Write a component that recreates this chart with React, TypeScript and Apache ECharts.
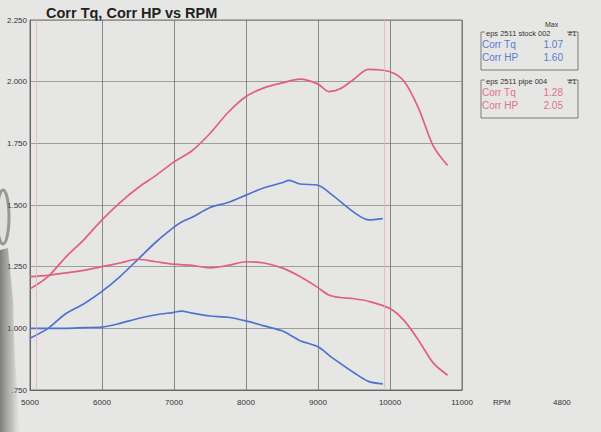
import React, { useEffect, useRef } from "react";
import * as echarts from "echarts";

const rpmStock = [5000, 5250, 5500, 5750, 6000, 6250, 6500, 6750, 7000, 7100, 7250, 7500, 7750, 8000, 8250, 8500, 8600, 8750, 9000, 9200, 9500, 9700, 9900];
const tqStock = [1.0, 1.0, 1.0, 1.003, 1.005, 1.02, 1.04, 1.055, 1.065, 1.07, 1.062, 1.05, 1.045, 1.03, 1.01, 0.99, 0.975, 0.95, 0.925, 0.88, 0.82, 0.785, 0.775];
const hpStock = [0.96, 1.0, 1.06, 1.1, 1.15, 1.21, 1.28, 1.35, 1.41, 1.43, 1.45, 1.49, 1.51, 1.54, 1.57, 1.59, 1.6, 1.585, 1.58, 1.54, 1.47, 1.44, 1.445];

const rpmPipe = [5000, 5250, 5500, 5750, 6000, 6250, 6500, 6750, 7000, 7250, 7500, 7750, 8000, 8250, 8500, 8750, 9000, 9150, 9300, 9500, 9700, 10000, 10200, 10400, 10600, 10800];
const tqPipe = [1.21, 1.215, 1.225, 1.235, 1.25, 1.265, 1.28, 1.27, 1.26, 1.255, 1.245, 1.255, 1.27, 1.265, 1.245, 1.21, 1.165, 1.135, 1.125, 1.12, 1.11, 1.08, 1.03, 0.95, 0.86, 0.81];
const hpPipe = [1.16, 1.21, 1.29, 1.36, 1.44, 1.51, 1.57, 1.62, 1.675, 1.72, 1.79, 1.875, 1.94, 1.975, 1.995, 2.01, 1.99, 1.96, 1.97, 2.01, 2.05, 2.04, 2.0, 1.89, 1.74, 1.66];

const cursorRpm = [5090, 9920];

const stockName = "eps 2511 stock 002";
const pipeName = "eps 2511 pipe 004";
const stockMax = ["1.07", "1.60"];
const pipeMax = ["1.28", "2.05"];

const BLUE = "#4d73cf";
const PINK = "#e2607f";

export default function App() {
  const ref = useRef<HTMLDivElement>(null);
  useEffect(() => {
    document.body.style.margin = "0";
    if (!ref.current) return;
    const chart = echarts.init(ref.current, null, { renderer: "svg" });
    const pair = (xs: number[], ys: number[]) => xs.map((x, i) => [x, ys[i]]);
    const font = "Liberation Sans, Arial, sans-serif";
    const lineSeries = (name: string, data: number[][], color: string, extra: any = {}) => ({
      name,
      type: "line",
      data,
      smooth: 0.3,
      showSymbol: false,
      symbol: "none",
      lineStyle: { color, width: 1.7 },
      z: 3,
      ...extra,
    });
    const legendBox = (top: number, header: string, color: string, vals: string[]) => [
      {
        type: "rect",
        shape: { x: 481, y: top, width: 97, height: 38 },
        style: { fill: "none", stroke: "#7a7a7a", lineWidth: 1 },
      },
      {
        type: "rect",
        shape: { x: 485, y: top - 3, width: 82, height: 6 },
        style: { fill: "#e6e6e4" },
      },
      {
        type: "text",
        x: 486,
        y: top + 1,
        style: { text: header, font: `7.5px ${font}`, fill: "#333", verticalAlign: "middle" },
      },
      {
        type: "text",
        x: 568,
        y: top + 1,
        style: { text: "#1", font: `7.5px ${font}`, fill: "#333", verticalAlign: "middle" },
      },
      {
        type: "text",
        x: 482,
        y: top + 12,
        style: { text: "Corr Tq", font: `10px ${font}`, fill: color, verticalAlign: "middle" },
      },
      {
        type: "text",
        x: 563,
        y: top + 12,
        style: { text: vals[0], font: `10px ${font}`, fill: color, verticalAlign: "middle", align: "right" },
      },
      {
        type: "text",
        x: 482,
        y: top + 25,
        style: { text: "Corr HP", font: `10px ${font}`, fill: color, verticalAlign: "middle" },
      },
      {
        type: "text",
        x: 563,
        y: top + 25,
        style: { text: vals[1], font: `10px ${font}`, fill: color, verticalAlign: "middle", align: "right" },
      },
    ];
    chart.setOption({
      animation: false,
      backgroundColor: "#e6e6e4",
      title: {
        text: "Corr Tq, Corr HP vs RPM",
        left: 41,
        top: 0,
        textStyle: { fontFamily: font, fontSize: 14.5, fontWeight: "bold", color: "#222" },
      },
      grid: {
        left: 30,
        right: 139,
        top: 20,
        bottom: 42,
        show: true,
        borderColor: "#777",
        borderWidth: 1,
        backgroundColor: "transparent",
      },
      xAxis: {
        type: "value",
        min: 5000,
        max: 11000,
        interval: 1000,
        axisLine: { show: true, lineStyle: { color: "#666" } },
        axisTick: { show: false },
        axisLabel: { margin: 8, fontFamily: font, fontSize: 8, color: "#333", formatter: (v: number) => String(v) },
        splitLine: { show: true, lineStyle: { color: "#6f6f6f", width: 0.8 } },
      },
      yAxis: {
        type: "value",
        min: 0.75,
        max: 2.25,
        interval: 0.25,
        axisLine: { show: true, lineStyle: { color: "#666" } },
        axisTick: { show: false },
        axisLabel: {
          margin: 3,
          fontFamily: font,
          fontSize: 8,
          color: "#333",
          formatter: (v: number) => (v === 0.75 ? ".750" : v.toFixed(3)),
        },
        splitLine: { show: true, lineStyle: { color: "#8c8c8c", width: 0.8 } },
      },
      series: [
        lineSeries("Corr Tq stock", pair(rpmStock, tqStock), BLUE),
        lineSeries("Corr HP stock", pair(rpmStock, hpStock), BLUE),
        lineSeries("Corr Tq pipe", pair(rpmPipe, tqPipe), PINK, {
          markLine: {
            silent: true,
            symbol: "none",
            label: { show: false },
            lineStyle: { color: "#eab0c0", width: 0.8, type: "solid" },
            data: cursorRpm.map((x) => ({ xAxis: x })),
          },
        }),
        lineSeries("Corr HP pipe", pair(rpmPipe, hpPipe), PINK),
      ],
      graphic: [
        ...legendBox(32, stockName, "#5a7bd0", stockMax),
        ...legendBox(80, pipeName, "#e2708c", pipeMax),
        {
          type: "text",
          x: 545,
          y: 24,
          z: 10,
          style: { text: "Max", font: `7px ${font}`, fill: "#333", verticalAlign: "middle" },
        },
        {
          type: "text",
          x: 493,
          y: 402,
          style: { text: "RPM", font: `8px ${font}`, fill: "#333", verticalAlign: "middle" },
        },
        {
          type: "text",
          x: 553,
          y: 402,
          style: { text: "4800", font: `8px ${font}`, fill: "#333", verticalAlign: "middle" },
        },
        {
          type: "polygon",
          z: 20,
          shape: { points: [[0, 250], [8, 248], [13, 300], [15, 360], [20, 432], [0, 432]] },
          style: {
            fill: new echarts.graphic.LinearGradient(0, 0, 1, 0, [
              { offset: 0, color: "rgba(80,80,80,0.7)" },
              { offset: 0.6, color: "rgba(120,120,120,0.35)" },
              { offset: 1, color: "rgba(160,160,160,0)" },
            ]),
          },
        },
        {
          type: "ellipse",
          z: 20,
          shape: { cx: 3, cy: 217, rx: 6, ry: 27 },
          style: { fill: "rgba(200,200,200,0.2)", stroke: "rgba(90,90,90,0.55)", lineWidth: 3 },
        },
      ],
    });
    return () => chart.dispose();
  }, []);
  return <div ref={ref} style={{ width: 601, height: 432 }} />;
}
